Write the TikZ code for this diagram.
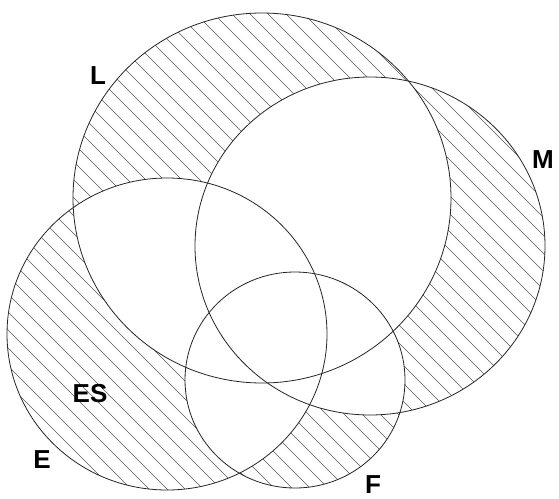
\documentclass[tikz,border=0pt]{standalone}
\usepackage{fontspec}
\setmainfont{Liberation Sans}
\begin{document}
\begin{tikzpicture}[x=1pt,y=-1pt,
  outline/.style={draw=black!85,line width=0.8pt},
  hatchline/.style={draw=black!65,line width=0.65pt},
  lbl/.style={font=\bfseries\fontsize{26}{26}\selectfont,inner sep=0pt}]
\newcommand\shL{(262,198) ellipse [x radius=189pt, y radius=185pt]}
\newcommand\shM{(370,246) ellipse [x radius=175pt, y radius=169pt]}
\newcommand\shE{(167,334) ellipse [x radius=160pt, y radius=156pt]}
\newcommand\shF{(295,380) ellipse [x radius=110pt, y radius=108pt]}
\newcommand\hatchall{\foreach \t in {-520,-502,...,580} \draw[hatchline] (\t,0) -- ++(520,520);}
\useasboundingbox[fill=white] (0,0) rectangle (559,498);
% hatching in each set
\begin{scope}\clip \shL; \hatchall \end{scope}
\begin{scope}\clip \shM; \hatchall \end{scope}
\begin{scope}\clip \shE; \hatchall \end{scope}
\begin{scope}\clip \shF; \hatchall \end{scope}
% blank regions lying in two or more sets
\begin{scope}\clip \shL; \fill[white] \shM; \fill[white] \shE; \fill[white] \shF; \end{scope}
\begin{scope}\clip \shM; \fill[white] \shE; \fill[white] \shF; \end{scope}
\begin{scope}\clip \shE; \fill[white] \shF; \end{scope}
% outlines
\draw[outline] \shL;
\draw[outline] \shM;
\draw[outline] \shE;
\draw[outline] \shF;
% labels
\node[lbl] (lL) at (98,76) {L};
\node[lbl] (lM) at (543,160) {M};
\node[lbl] (lES) at (90,394) {ES};
\node[lbl] (lE) at (42,460) {E};
\node[lbl] (lF) at (373,485) {F};
\end{tikzpicture}
\end{document}
